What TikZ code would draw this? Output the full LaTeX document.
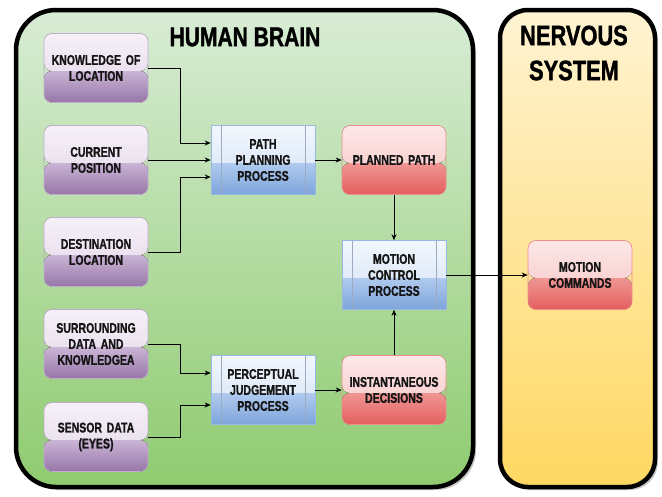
\documentclass[tikz,border=0pt]{standalone}
\usepackage{fontspec}
\newfontfamily\narrowsans[FakeStretch=0.78,FakeBold=1.3]{Liberation Sans Bold}
\newfontfamily\narrowbox[FakeStretch=0.75,FakeBold=1.2]{Liberation Sans Bold}
\newcommand{\narrowbf}{\narrowsans}
\usetikzlibrary{arrows.meta}
\definecolor{greentop}{HTML}{D8ECD5}
\definecolor{greenbot}{HTML}{8FCB70}
\definecolor{yeltop}{HTML}{FFF3D2}
\definecolor{yelbot}{HTML}{FFD862}
\definecolor{pA}{HTML}{F6F0F8}
\definecolor{pB}{HTML}{E2D6E8}
\definecolor{pC}{HTML}{CBB5D6}
\definecolor{pD}{HTML}{9676A8}
\definecolor{bA}{HTML}{F2F7FD}
\definecolor{bB}{HTML}{D0E0F5}
\definecolor{bC}{HTML}{B0CAEE}
\definecolor{bD}{HTML}{7EA5DC}
\definecolor{rA}{HTML}{FCE8E8}
\definecolor{rB}{HTML}{F7C2C1}
\definecolor{rC}{HTML}{F09694}
\definecolor{rD}{HTML}{E35F5D}
\definecolor{txt}{HTML}{151515}
\tikzset{
  glossy/.style n args={4}{path picture={
    \fill[top color=#1,bottom color=#2] (path picture bounding box.north west) rectangle ([yshift=-3pt]path picture bounding box.east);
    \fill[top color=#3,bottom color=#4] ([yshift=-3pt]path picture bounding box.west) rectangle (path picture bounding box.south east);
  }},
  boxbase/.style={minimum width=104pt, minimum height=69pt, text width=100pt, align=center,
    font=\narrowbox\fontsize{14}{16}\selectfont, text=txt, inner sep=0pt},
  inbox/.style={boxbase, rounded corners=8pt, draw=pD!60, line width=0.6pt, glossy={pA}{pB}{pC}{pD}},
  outbox/.style={boxbase, rounded corners=8pt, draw=rD!70, line width=0.6pt, glossy={rA}{rB}{rC}{rD}},
  procbox/.style={boxbase, draw=bD!80, line width=0.6pt,
    path picture={
      \fill[top color=bA,bottom color=bB] (path picture bounding box.north west) rectangle ([yshift=-3pt]path picture bounding box.east);
      \fill[top color=bC,bottom color=bD] ([yshift=-3pt]path picture bounding box.west) rectangle (path picture bounding box.south east);
      \draw[bD!70!black!60, line width=0.5pt] ([xshift=10pt]path picture bounding box.north west) -- ([xshift=10pt]path picture bounding box.south west);
      \draw[bD!70!black!60, line width=0.5pt] ([xshift=-10pt]path picture bounding box.north east) -- ([xshift=-10pt]path picture bounding box.south east);
    }},
  arr/.style={-{Stealth[length=6pt,width=5pt]}, line width=0.8pt, draw=black},
  panel/.style={line width=4.5pt, draw=black},
  ttl/.style={font=\narrowbf\fontsize{27}{30}\selectfont, text=black, align=center}
}
\begin{document}
\begin{tikzpicture}[x=1pt,y=-1pt]
\useasboundingbox (0,0) rectangle (662,496);
% shadows
\fill[black!22, rounded corners=40pt] (19,13) rectangle (476,490);
\fill[black!22, rounded corners=28pt] (503,13) rectangle (658,490);
% panels
\shade[top color=greentop, bottom color=greenbot, rounded corners=40pt] (16,10) rectangle (473,487);
\draw[panel, rounded corners=40pt] (16,10) rectangle (473,487);
\shade[top color=yeltop, bottom color=yelbot, rounded corners=28pt] (500,10) rectangle (655,487);
\draw[panel, rounded corners=28pt] (500,10) rectangle (655,487);
% titles
\node[ttl] (t1) at (245,37) {HUMAN BRAIN};
\node[ttl, font=\narrowbf\fontsize{28}{35}\selectfont] (t2) at (574,53) {NERVOUS\\SYSTEM};
% input boxes
\node[inbox] (kl) at (96,68) {KNOWLEDGE OF\\LOCATION};
\node[inbox] (cp) at (96,160) {CURRENT\\POSITION};
\node[inbox] (dl) at (96,252) {DESTINATION\\LOCATION};
\node[inbox] (sd) at (96,344) {SURROUNDING\\DATA AND\\KNOWLEDGEA};
\node[inbox] (se) at (96,437) {SENSOR DATA\\(EYES)};
% process boxes
\node[procbox] (pp) at (263,160) {PATH\\PLANNING\\PROCESS};
\node[procbox] (pj) at (263,390) {PERCEPTUAL\\JUDGEMENT\\PROCESS};
\node[procbox] (mc) at (394,275) {MOTION\\CONTROL\\PROCESS};
% output boxes
\node[outbox] (pl) at (394,160) {PLANNED PATH};
\node[outbox] (id) at (394,390) {INSTANTANEOUS\\DECISIONS};
\node[outbox] (cm) at (580,275) {MOTION\\COMMANDS};
% connectors
\draw[arr] (kl.east) -- ++(32,0) |- ([yshift=17pt]pp.west);
\draw[arr] (cp.east) -- (pp.west);
\draw[arr] (dl.east) -- ++(32,0) |- ([yshift=-17pt]pp.west);
\draw[arr] (sd.east) -- ++(32,0) |- ([yshift=17pt]pj.west);
\draw[arr] (se.east) -- ++(32,0) |- ([yshift=-15pt]pj.west);
\draw[arr] (pp.east) -- (pl.west);
\draw[arr] (pj.east) -- (id.west);
\draw[arr] (pl.south) -- (mc.north);
\draw[arr] (id.north) -- (mc.south);
\draw[arr] (mc.east) -- (cm.west);
\end{tikzpicture}
\end{document}
